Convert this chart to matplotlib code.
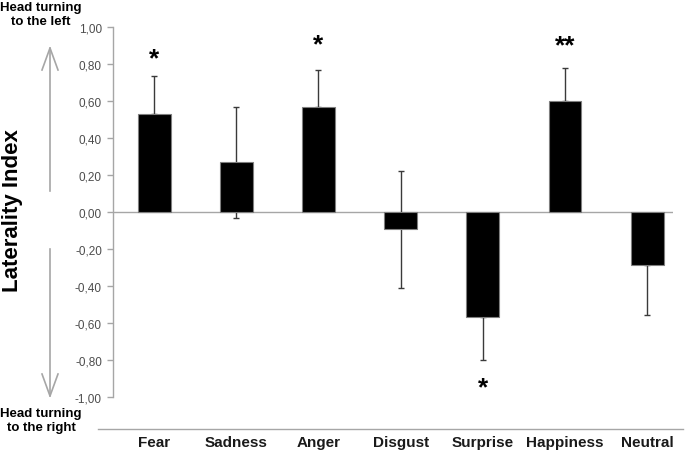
import numpy as np
import matplotlib
matplotlib.use('Agg')
import matplotlib.pyplot as plt
from matplotlib.lines import Line2D

plt.rcParams['font.family'] = ['Liberation Sans', 'DejaVu Sans']

# data
emotions = ['Fear', 'Sadness', 'Anger', 'Disgust', 'Surprise', 'Happiness', 'Neutral']
means = [0.53, 0.27, 0.57, -0.09, -0.57, 0.60, -0.285]
err_up = [0.205, 0.30, 0.20, 0.31, 0.0, 0.18, 0.0]
err_down = [0.0, 0.30, 0.0, 0.32, 0.23, 0.0, 0.27]
stars = {'Fear': ('*', 0.83), 'Anger': ('*', 0.905),
         'Happiness': ('**', 0.90), 'Surprise': ('*', -0.95)}
yticks = np.arange(-1.0, 1.01, 0.2)

grey = '#a6a6a6'

fig = plt.figure(figsize=(6.85, 4.56), dpi=100)
ax = fig.add_axes([113/685, 1 - 398/456, (672.7 - 113)/685, (398 - 28)/456])

x = np.arange(len(emotions))
ax.bar(x, means, width=0.40, color='black', edgecolor='#7f7f7f', linewidth=0.8, zorder=3)
ax.errorbar(x, means, yerr=[err_down, err_up], fmt='none', ecolor='#3a3a3a',
            elinewidth=1.0, capsize=2.5, capthick=1.0, zorder=2)
ax.axhline(0, color=grey, lw=1.0, zorder=1)

for name, (s, yy) in stars.items():
    ax.text(emotions.index(name), yy, s, ha='center', va='center',
            fontsize=19, fontweight='bold', color='black')

ax.set_xlim(-0.5, 6.31)
ax.set_ylim(-1.0, 1.0)
ax.set_yticks(yticks)
ax.set_yticklabels([('%.2f' % v).replace('.', ',').replace('-0,00', '0,00') for v in yticks])
ax.set_xticks([])
for sp in ['top', 'right', 'bottom']:
    ax.spines[sp].set_visible(False)
ax.spines['left'].set_color(grey)
ax.spines['left'].set_linewidth(1.0)
ax.tick_params(axis='y', direction='out', length=4, width=1.0, color=grey,
               labelsize=8.5, labelcolor='#4d4d4d', pad=4)

# bottom category line and labels
fig.add_artist(Line2D([98/685, 683/685], [1 - 429.5/456] * 2, color=grey, lw=1.0))
for i, name in enumerate(emotions):
    xf = (154 + 82.2 * i) / 685
    fig.text(xf, 1 - 443/456, name, ha='center', va='center',
             fontsize=11, fontweight='bold', color='#1a1a1a')

# y label
fig.text(13/685, 1 - 211/456, 'Laterality Index', rotation=90, ha='center', va='center',
         fontsize=16, fontweight='bold', color='black')

# direction arrows
fig.add_artist(Line2D([50/685] * 2, [1 - 192/456, 1 - 49/456], color=grey, lw=1.2))
fig.add_artist(Line2D([42/685, 50/685, 58/685], [1 - 71/456, 1 - 49/456, 1 - 71/456],
                      color=grey, lw=1.2))
fig.add_artist(Line2D([50/685] * 2, [1 - 250/456, 1 - 397/456], color=grey, lw=1.2))
fig.add_artist(Line2D([42/685, 50/685, 58/685], [1 - 375/456, 1 - 397/456, 1 - 375/456],
                      color=grey, lw=1.2))

fig.text(41/685, 1 - 15/456, 'Head turning\nto the left', ha='center', va='center',
         fontsize=9.5, fontweight='bold', linespacing=1.2)
fig.text(41/685, 1 - 421/456, 'Head turning\nto the right', ha='center', va='center',
         fontsize=9.5, fontweight='bold', linespacing=1.2)

fig.savefig('out.png', dpi=100)
